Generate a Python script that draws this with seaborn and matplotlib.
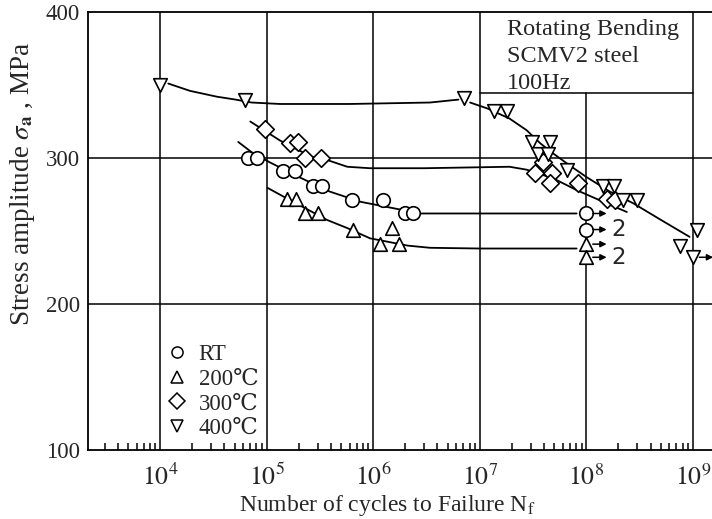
import numpy as np
import pandas as pd
import matplotlib
matplotlib.use("Agg")
import matplotlib.pyplot as plt
import seaborn as sns
from matplotlib.lines import Line2D
from matplotlib.ticker import LogLocator, NullFormatter, FixedLocator

# ---------------- data ----------------
rt_n = [6.7e4, 8.1e4, 1.43e5, 1.84e5, 2.72e5, 3.3e5, 6.3e5, 1.23e6, 2.0e6, 2.35e6]
rt_s = [300, 300, 291, 291, 281, 281, 271, 271, 262, 262]
rt_runout_n = [1e8, 1e8]
rt_runout_s = [262, 251]
rt_runout_count = ["", "2"]

t200_n = [1.55e5, 1.87e5, 2.3e5, 3.0e5, 6.5e5, 1.5e6, 1.15e6, 1.73e6]
t200_s = [272, 272, 262, 262, 251, 252, 241, 241]
t200_runout_n = [1e8, 1e8]
t200_runout_s = [241, 232]
t200_runout_count = ["", "2"]

t300_n = [9.7e4, 1.66e5, 1.97e5, 2.3e5, 3.2e5, 3.3e7, 3.9e7, 4.8e7, 4.6e7, 8.3e7, 1.55e8, 1.85e8]
t300_s = [320, 310, 311, 300, 300, 290, 297, 290, 283, 283, 272, 271]

t400_n = [1e4, 6.3e4, 7.1e6, 1.35e7, 1.8e7, 3.1e7, 4.6e7, 3.5e7, 4.4e7, 6.6e7,
          1.43e8, 1.8e8, 2.2e8, 3.0e8, 1.1e9, 7.6e8]
t400_s = [350, 340, 341, 332, 332, 311, 311, 303, 303, 292, 281, 281, 271, 271, 251, 240]
t400_runout_n = [1e9]
t400_runout_s = [232]
t400_runout_count = [""]

# hand-drawn fitted curves
c400a_n = [1.19e4, 1.9e4, 3.4e4, 5.1e4, 7.2e4, 1.33e5, 6e5, 3.4e6, 6.3e6]
c400a_s = [351, 346, 342, 340, 338, 337, 337, 338, 340]
c400b_n = [8.1e6, 1.17e7, 1.9e7, 2.75e7, 3.7e7, 4.9e7, 7.1e7, 1e8, 1.66e8, 2.75e8, 4.9e8, 9.3e8]
c400b_s = [338, 334, 327, 319, 310, 303, 294.5, 287, 277, 269, 258, 246]
c300_n = [7e4, 1.33e5, 2.6e5, 3.7e5, 5.7e5, 9.3e5, 3e6, 1.9e7, 2.75e7, 4.9e7, 8.1e7, 1.66e8, 2.4e8]
c300_s = [325, 312, 301, 298.6, 294, 293, 293, 294, 292, 286, 278, 268, 263]
crt_n = [5.4e4, 7.2e4, 1.07e5, 2.0e5, 3.9e5, 7.6e5, 1.45e6, 2.75e6, 3.5e6, 1e7, 8.1e7]
crt_s = [311, 304, 297, 287, 277, 270, 266, 262, 262, 262, 262]
c200_n = [1.02e5, 1.4e5, 3.7e5, 5.7e5, 9.3e5, 2.1e6, 3.4e6, 1e7, 8.1e7]
c200_s = [279.5, 274, 257.5, 252, 245, 240, 238.5, 238, 238]

legend_labels = ["RT", "200\u2103", "300\u2103", "400\u2103"]
box_lines = ["Rotating Bending", "SCMV2 steel", "100Hz"]
x_ticks = [1e4, 1e5, 1e6, 1e7, 1e8, 1e9]
x_tick_labels = [r"$10^{4}$", r"$10^{5}$", r"$10^{6}$", r"$10^{7}$", r"$10^{8}$", r"$10^{9}$"]
y_ticks = [100, 200, 300, 400]

# ---------------- style ----------------
sns.set_style("white")
plt.rcParams["font.family"] = ["Liberation Serif", "DejaVu Serif", "Noto Sans CJK JP"]
plt.rcParams["mathtext.fontset"] = "stix"
FS = 15.5

fig = plt.figure(figsize=(7.12, 5.19), dpi=100)
ax = fig.add_axes([88 / 712, 69 / 519, 624 / 712, 438 / 519])
ax.set_xscale("log")
ax.set_xlim(2.1e3, 1.51e9)
ax.set_ylim(100, 400)

# grid lines (custom, one is interrupted by the text box)
for xv in x_ticks:
    if xv == 1e8:
        ax.plot([xv, xv], [100, 344.5], color="black", lw=1.1, zorder=1)
    else:
        ax.axvline(xv, color="black", lw=1.1, zorder=1)
for yv in [200, 300]:
    ax.axhline(yv, color="black", lw=1.1, zorder=1)
# text box bottom edge
ax.plot([1e7, 1e9], [344.5, 344.5], color="black", lw=1.1, zorder=1)

# curves
for cn, cs in [(c400a_n, c400a_s), (c400b_n, c400b_s), (c300_n, c300_s),
               (crt_n, crt_s), (c200_n, c200_s)]:
    sns.lineplot(x=cn, y=cs, sort=False, estimator=None, color="black", lw=1.3,
                 ax=ax, zorder=2)

# markers
series = [
    (rt_n + rt_runout_n, rt_s + rt_runout_s, "o", 95),
    (t200_n + t200_runout_n, t200_s + t200_runout_s, "^", 95),
    (t300_n, t300_s, "D", 80),
    (t400_n + t400_runout_n, t400_s + t400_runout_s, "v", 95),
]
for xs, ys, m, s in series:
    sns.scatterplot(x=xs, y=ys, marker=m, s=s, facecolor="white", edgecolor="black",
                    linewidth=1.2, ax=ax, zorder=3)

# run-out arrows
for rn, rs, rc in [(rt_runout_n, rt_runout_s, rt_runout_count),
                   (t200_runout_n, t200_runout_s, t200_runout_count),
                   (t400_runout_n, t400_runout_s, t400_runout_count)]:
    for n, s, c in zip(rn, rs, rc):
        ax.annotate("", xy=(n * 10 ** 0.19, s), xytext=(n * 10 ** 0.06, s),
                    arrowprops=dict(arrowstyle="-|>", color="black", lw=1.1,
                                    mutation_scale=9, shrinkA=0, shrinkB=0),
                    zorder=4, annotation_clip=False)
        if c:
            ax.text(n * 10 ** 0.23, s, c, fontsize=FS + 1, va="center", ha="left",
                    family=["DejaVu Sans"])

# text box
for i, t in enumerate(box_lines):
    ax.text(1.8e7, 388.3 - i * 18.8, t, fontsize=17.5, va="center", ha="left")

# axes styling
for side in ["left", "top", "bottom"]:
    ax.spines[side].set_linewidth(1.3)
    ax.spines[side].set_color("black")
ax.spines["right"].set_visible(False)

ax.xaxis.set_major_locator(FixedLocator(x_ticks))
ax.set_xticklabels(x_tick_labels, fontsize=18.5)
ax.xaxis.set_minor_locator(LogLocator(base=10, subs=np.arange(2, 10), numticks=20))
ax.xaxis.set_minor_formatter(NullFormatter())
ax.tick_params(axis="x", which="major", length=0, pad=10)
ax.tick_params(axis="x", which="minor", direction="in", length=5, width=1.1,
               bottom=True, top=False, color="black")
ax.set_yticks(y_ticks)
ax.set_yticklabels([str(v) for v in y_ticks], fontsize=FS + 1)
ax.tick_params(axis="y", which="major", length=0, pad=6)

ax.set_xlabel(r"Number of cycles to Failure N$_{\mathrm{f}}$", fontsize=17)
ax.xaxis.set_label_coords(0.48, -0.098)
ax.set_ylabel(r"Stress amplitude $\sigma_{\mathbf{a}}$ , MPa", fontsize=19.5)
ax.yaxis.set_label_coords(-0.082, 0.607)

# legend
handles = [Line2D([], [], marker=m, ls="none", mfc="white", mec="black", mew=1.1, ms=8)
           for m in ["o", "^", "D", "v"]]
ax.legend(handles, legend_labels, loc="upper left", bbox_to_anchor=(0.124, 0.242),
          frameon=False, fontsize=FS + 1, handlelength=1.0, handletextpad=0.45,
          labelspacing=0.16, borderpad=0, borderaxespad=0)

fig.savefig("out.png", dpi=100)
